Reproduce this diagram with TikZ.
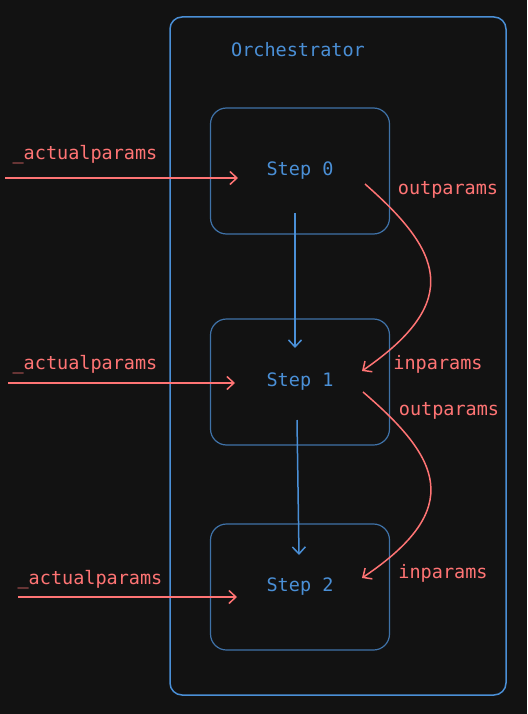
\documentclass[tikz,border=0pt]{standalone}
\usepackage{fontspec}
\setmainfont{DejaVu Sans Mono}
\usetikzlibrary{arrows.meta}
\definecolor{bgdark}{HTML}{121212}
\definecolor{orchblue}{HTML}{4A8FD6}
\definecolor{stepblue}{HTML}{3F72A8}
\definecolor{paramred}{HTML}{FF7474}
\tikzset{
  stepbox/.style={draw=stepblue, line width=1.2pt, rounded corners=16pt,
    minimum width=179pt, minimum height=126pt, text=orchblue},
  paramlabel/.style={text=paramred, inner sep=0pt},
  openhead/.style={-{Straight Barb[length=7pt,width=13pt,line width=1.5pt]}},
}
\begin{document}
\begin{tikzpicture}[x=1pt,y=-1pt,font=\fontsize{18.5}{22}\selectfont]

        \fill[bgdark] (0,0) rectangle (527,714);
        \useasboundingbox (0,0) rectangle (527,714);

        \draw[orchblue, line width=1.5pt, rounded corners=12pt] (170,17) rectangle (506,695);
        \node[text=orchblue] (orch) at (298,50) {Orchestrator};

        \begin{scope}[every node/.style={stepbox}]
          \node (s0) at (300,171) {Step 0};
          \node (s1) at (300,382) {Step 1};
          \node (s2) at (300,587) {Step 2};
        \end{scope}

        \coordinate (a0) at (5,178);   \coordinate (b0) at (238,178);
        \coordinate (a1) at (8,383);   \coordinate (b1) at (235,383);
        \coordinate (a2) at (18,597);  \coordinate (b2) at (237,597);

        \coordinate (d0) at (295,213); \coordinate (e0) at (295,348);
        \coordinate (d1) at (297,420); \coordinate (e1) at (299,555);

        \coordinate (o0) at (365,184); \coordinate (i1) at (362,371);
        \coordinate (o1) at (363,392); \coordinate (i2) at (362,578);

        \begin{scope}[every node/.style={paramlabel}]
          \node (ap0) at (85,155) {\_actualparams};
          \node (ap1) at (85,365) {\_actualparams};
          \node (ap2) at (90,580) {\_actualparams};
          \node (op0) at (448,190) {outparams};
          \node (ip1) at (438,364) {inparams};
          \node (op1) at (449,411) {outparams};
          \node (ip2) at (443,573) {inparams};
        \end{scope}

        \begin{scope}[every path/.style={paramred, line width=1.5pt, openhead}]
          \path (a0) edge (b0);
          \path (a1) edge (b1);
          \path (a2) edge (b2);
          \draw (o0) .. controls (440,250) and (465,300) .. (i1);
          \draw (o1) .. controls (440,458) and (466,508) .. (i2);
        \end{scope}

        \begin{scope}[every edge/.style={draw, orchblue, line width=1.5pt, openhead}]
          \path (d0) edge (e0);
          \path (d1) edge (e1);
        \end{scope}

      \end{tikzpicture}
\end{document}
